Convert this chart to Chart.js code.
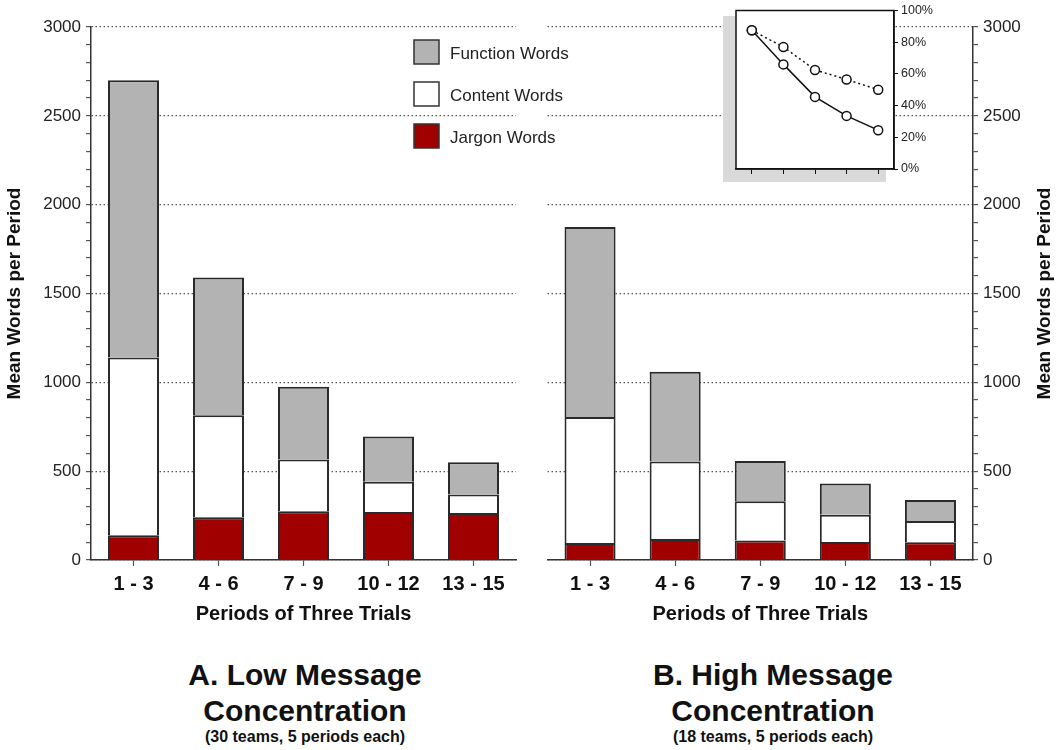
<!DOCTYPE html>
<html>
<head>
<meta charset="utf-8">
<script src="https://cdn.jsdelivr.net/npm/chart.js@4.4.1/dist/chart.umd.min.js"></script>
<style>
  body { margin: 0; background: #fff; width: 1057px; height: 750px; position: relative; overflow: hidden;
         font-family: "Liberation Sans", Arial, sans-serif; }
  .caja { position: absolute; }
  #sombra { position: absolute; left: 723px; top: 16px; width: 163px; height: 166px; background: #d9d9d9; }
  .titulo { position: absolute; width: 420px; text-align: center; font-weight: bold; color: #111; }
</style>
</head>
<body>
<div class="caja" style="left:530px;top:0;width:527px;height:630px"><canvas id="chartB"></canvas></div>
<div class="caja" style="left:0;top:0;width:600px;height:630px"><canvas id="chartA"></canvas></div>
<div id="sombra"></div>
<div class="caja" style="left:715px;top:0;width:250px;height:190px"><canvas id="inset"></canvas></div>

<div class="titulo" style="left:95px;top:657px;font-size:30px;line-height:36px">A. Low Message<br>Concentration</div>
<div class="titulo" style="left:95px;top:727px;font-size:16px;line-height:20px">(30 teams, 5 periods each)</div>
<div class="titulo" style="left:563px;top:657px;font-size:30px;line-height:36px">B. High Message<br>Concentration</div>
<div class="titulo" style="left:563px;top:727px;font-size:16px;line-height:20px">(18 teams, 5 periods each)</div>

<script>
// Periods (categories)
const periodos = ['1 - 3', '4 - 6', '7 - 9', '10 - 12', '13 - 15'];

// A. Low message concentration (stack segments)
const lowJargon = [140, 240, 275, 270, 265];
const lowContent = [1000, 575, 290, 170, 103];
const lowFunction = [1560, 775, 410, 255, 182];

// B. High message concentration (stack segments)
const highJargon = [95, 118, 110, 101, 100];
const highContent = [710, 437, 220, 154, 119];
const highFunction = [1070, 505, 227, 176, 119];

// labelled ticks on the main y axes
const yTicks = [0, 500, 1000, 1500, 2000, 2500, 3000];

// inset (percent)
const insetSolid = [87.5, 66, 45.5, 33.5, 24.5];
const insetDotted = [87.5, 77, 62.5, 56.5, 50];

const fuente = '"Liberation Sans", Arial, sans-serif';
Chart.defaults.font.family = fuente;

// legend drawn inside panel A
const leyenda = {
  id: 'leyenda',
  afterDraw(chart) {
    const ctx = chart.ctx;
    const ds = chart.data.datasets.slice().reverse();
    ds.forEach((d, i) => {
      const y = 40 + i * 42;
      ctx.save();
      ctx.fillStyle = d.backgroundColor;
      ctx.fillRect(414, y, 25, 24);
      ctx.strokeStyle = '#333';
      ctx.lineWidth = 1.5;
      ctx.strokeRect(414, y, 25, 24);
      ctx.fillStyle = '#222';
      ctx.font = '17px ' + fuente;
      ctx.textBaseline = 'middle';
      ctx.fillText(d.label, 450, y + 14);
      ctx.restore();
    });
  }
};

// right side axis title (reads bottom to top like the left one)
const tituloDerecha = {
  id: 'tituloDerecha',
  afterDraw(chart) {
    const ctx = chart.ctx;
    const a = chart.chartArea;
    ctx.save();
    ctx.translate(chart.width - 12, (a.top + a.bottom) / 2);
    ctx.rotate(-Math.PI / 2);
    ctx.font = 'bold 19px ' + fuente;
    ctx.fillStyle = '#111';
    ctx.textAlign = 'center';
    ctx.textBaseline = 'middle';
    ctx.fillText('Mean Words per Period', 0, 0);
    ctx.restore();
  }
};

function crearBarras(id, jargon, content, funcion, lado, extras) {
  const derecha = lado === 'right';
  return new Chart(document.getElementById(id), {
    type: 'bar',
    data: {
      labels: periodos,
      datasets: [
        { label: 'Jargon Words', data: jargon, backgroundColor: '#a00000' },
        { label: 'Content Words', data: content, backgroundColor: '#ffffff' },
        { label: 'Function Words', data: funcion, backgroundColor: '#b3b3b3' }
      ]
    },
    options: {
      responsive: true,
      maintainAspectRatio: false,
      animation: false,
      layout: { padding: derecha ? { left: 17.5, top: 27, right: 0, bottom: 0 } : { left: 0, top: 27, right: 84, bottom: 0 } },
      datasets: {
        bar: {
          borderColor: '#2a2a2a',
          borderWidth: { top: 2, left: 2, right: 2, bottom: 0 },
          borderSkipped: false,
          barPercentage: 0.6,
          categoryPercentage: 1
        }
      },
      plugins: { legend: { display: false }, tooltip: { enabled: false } },
      scales: {
        x: {
          stacked: true,
          grid: { drawOnChartArea: false, offset: false, tickLength: 6, tickColor: '#555', tickWidth: 1.2 },
          border: { color: '#333', width: 1.5 },
          ticks: { font: { size: 20, weight: 'bold' }, color: '#111', padding: 6, maxRotation: 0 },
          title: { display: true, text: 'Periods of Three Trials', font: { size: 20, weight: 'bold' }, color: '#111', padding: { top: 0, bottom: 4 } },
          afterFit: s => { s.height = 70; }
        },
        y: {
          stacked: true,
          position: lado,
          min: 0,
          max: 3000,
          ticks: {
            stepSize: 100,
            autoSkip: false,
            font: { size: 17 },
            color: '#222',
            padding: 5,
            callback: v => yTicks.includes(v) ? v : ''
          },
          grid: {
            color: c => yTicks.includes(c.tick.value) ? '#555' : 'rgba(0,0,0,0)',
            lineWidth: 1.2,
            tickLength: 5,
            tickColor: '#555'
          },
          border: { color: '#333', width: 1.5, dash: [1.5, 2.5] },
          title: { display: !derecha, text: 'Mean Words per Period', font: { size: 19, weight: 'bold' }, color: '#111', padding: { top: 3, bottom: 0 } },
          afterFit: s => { s.width = derecha ? 84 : 91; }
        }
      }
    },
    plugins: extras
  });
}

// white inset box with black frame
const marco = {
  id: 'marco',
  beforeDraw(chart) {
    const a = chart.chartArea;
    chart.ctx.save();
    chart.ctx.fillStyle = '#fff';
    chart.ctx.fillRect(a.left, a.top, a.right - a.left, a.bottom - a.top);
    chart.ctx.restore();
  },
  afterDraw(chart) {
    const a = chart.chartArea;
    chart.ctx.save();
    chart.ctx.strokeStyle = '#111';
    chart.ctx.lineWidth = 1.5;
    chart.ctx.strokeRect(a.left, a.top, a.right - a.left, a.bottom - a.top);
    chart.ctx.restore();
  }
};

function crearInset() {
  const punto = { borderColor: '#111', borderWidth: 1.5, pointRadius: 4.5, pointBackgroundColor: '#fff', pointBorderColor: '#111', pointBorderWidth: 1.5, tension: 0 };
  new Chart(document.getElementById('inset'), {
    type: 'line',
    data: {
      labels: periodos,
      datasets: [
        Object.assign({ data: insetSolid }, punto),
        Object.assign({ data: insetDotted, borderDash: [2, 3] }, punto)
      ]
    },
    options: {
      responsive: true,
      maintainAspectRatio: false,
      animation: false,
      layout: { padding: { left: 21, top: 9, right: 0, bottom: 0 } },
      plugins: { legend: { display: false }, tooltip: { enabled: false } },
      scales: {
        x: {
          offset: true,
          grid: { drawOnChartArea: false, offset: false, tickLength: 5, tickColor: '#111' },
          border: { color: '#111', width: 1.5 },
          ticks: { display: false },
          afterFit: s => { s.height = 21; }
        },
        y: {
          position: 'right',
          min: 0,
          max: 100,
          ticks: { stepSize: 20, font: { size: 12.5 }, color: '#222', padding: 3, callback: v => v + '%' },
          grid: { drawOnChartArea: false, tickLength: 4, tickColor: '#111' },
          border: { color: '#111', width: 1.5 },
          afterFit: s => { s.width = 71; }
        }
      }
    },
    plugins: [marco]
  });
}

document.addEventListener('DOMContentLoaded', function () {
  crearBarras('chartA', lowJargon, lowContent, lowFunction, 'left', [leyenda]);
  crearBarras('chartB', highJargon, highContent, highFunction, 'right', [tituloDerecha]);
  crearInset();
});
</script>
</body>
</html>
